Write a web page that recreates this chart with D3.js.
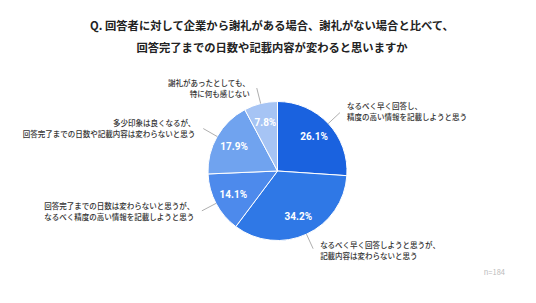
<!DOCTYPE html>
<html><head><meta charset="utf-8">
<script src="https://cdn.jsdelivr.net/npm/d3@7"></script>
<style>
html,body{margin:0;padding:0;background:#fff;}
svg{display:block;font-family:"Noto Sans CJK JP","Noto Sans",sans-serif;}
</style></head>
<body>
<script>
const titleLines = ["Q. 回答者に対して企業から謝礼がある場合、謝礼がない場合と比べて、","回答完了までの日数や記載内容が変わると思いますか"];
const categories = [
  ["なるべく早く回答し、","精度の高い情報を記載しようと思う"],
  ["なるべく早く回答しようと思うが、","記載内容は変わらないと思う"],
  ["回答完了までの日数は変わらないと思うが、","なるべく精度の高い情報を記載しようと思う"],
  ["多少印象は良くなるが、","回答完了までの日数や記載内容は変わらないと思う"],
  ["謝礼があったとしても、","特に何も感じない"]
];
const values = [26.1, 34.2, 14.1, 17.9, 7.8];
const colors = ["#1a62df","#2f78e6","#4d8aec","#70a3ef","#a6c4f4"];
const note = "n=184";

const W = 536, H = 303;
const cx = 277.5, cy = 171, r = 69.5;
const svg = d3.select("body").append("svg").attr("width", W).attr("height", H);

svg.append("g").selectAll("text").data(titleLines).join("text")
  .attr("x", 272).attr("y", (d,i)=>29.5 + i*22)
  .attr("text-anchor","middle").attr("font-size", 11.3).attr("font-weight", 700)
  .attr("fill","#222").text(d=>d);

const data = values.map((v,i)=>({v, i}));
const pie = d3.pie().value(d=>d.v).sort(null);
const arcs = pie(data);
const arc = d3.arc().innerRadius(0).outerRadius(r);
const g = svg.append("g").attr("transform", `translate(${cx},${cy})`);
g.selectAll("path").data(arcs).join("path")
  .attr("d", arc).attr("fill", d=>colors[d.data.i])
  .attr("stroke","#fff").attr("stroke-width", 1);

const inner = d3.arc().innerRadius(50).outerRadius(50);
g.selectAll("text.pct").data(arcs).join("text").attr("class","pct")
  .attr("transform", d=>`translate(${inner.centroid(d)})`)
  .attr("text-anchor","middle").attr("dy","0.36em")
  .attr("font-size", 10).attr("font-weight", 700).attr("fill","#fff")
  .attr("font-family","Roboto,'Noto Sans',sans-serif")
  .text(d=>d.data.v.toFixed(1)+"%");

const lineIn = d3.arc().innerRadius(r).outerRadius(r);
const lineOut = d3.arc().innerRadius(r+16).outerRadius(r+16);
g.selectAll("line.lead").data(arcs).join("line").attr("class","lead")
  .attr("x1", d=>lineIn.centroid(d)[0]).attr("y1", d=>lineIn.centroid(d)[1])
  .attr("x2", d=>lineOut.centroid(d)[0]).attr("y2", d=>lineOut.centroid(d)[1])
  .attr("stroke","#999").attr("stroke-width", 0.8);

// label anchor positions relative to leader end
const labelPos = [
  {dx: 7, dy: -3.5, anchor: "start"},
  {dx: 7, dy: -1, anchor: "start"},
  {dx: -7.7, dy: -1.5, anchor: "end"},
  {dx: -8, dy: -2.3, anchor: "end"},
  {dx: -7, dy: -2, anchor: "end"}
];
arcs.forEach(d=>{
  const [ex, ey] = lineOut.centroid(d);
  const p = labelPos[d.data.i];
  const t = g.append("text").attr("text-anchor", p.anchor)
    .attr("font-size", 7.5).attr("fill","#333").attr("font-weight", 500);
  categories[d.data.i].forEach((s,k)=>{
    t.append("tspan").attr("x", ex + p.dx).attr("y", ey + p.dy + k*11).text(s);
  });
});

svg.append("text").attr("x", 505).attr("y", 275).attr("text-anchor","end")
  .attr("font-size", 7.5).attr("fill","#bbb").text(note);
</script>
</body></html>
